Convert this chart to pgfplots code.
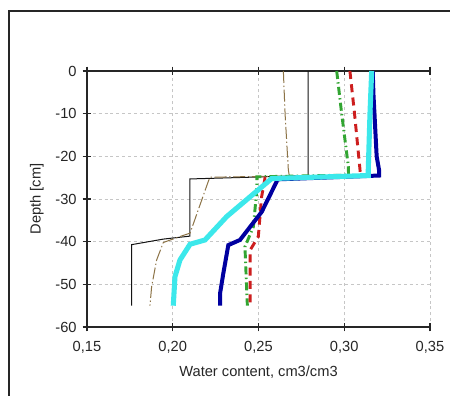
\documentclass[border=0pt]{standalone}
\usepackage{pgfplots}
\pgfplotsset{compat=1.18}
\usepackage{fontspec}
\setmainfont{Liberation Sans}
\definecolor{cblack}{RGB}{20,20,20}
\definecolor{cbrown}{RGB}{140,115,70}
\definecolor{cgreen}{RGB}{50,165,50}
\definecolor{cred}{RGB}{205,30,30}
\definecolor{cnavy}{RGB}{0,0,160}
\definecolor{ccyan}{RGB}{60,232,235}
\begin{document}
\begin{tikzpicture}
\useasboundingbox (-65.25pt,-51.75pt) rectangle (272.25pt,245.25pt);
\fill[white] (-65.25pt,-51.75pt) rectangle (272.25pt,245.25pt);
\draw[black!85, line width=0.8pt] (-58.5pt,-60pt) -- (-58.5pt,237pt) -- (280pt,237pt);
\begin{axis}[
  at={(0,0)}, anchor=south west,
  scale only axis,
  width=257.25pt, height=192pt,
  xmin=0.15, xmax=0.35, ymin=-60, ymax=0,
  xtick={0.15,0.2,0.25,0.3,0.35},
  ytick={0,-10,-20,-30,-40,-50,-60},
  axis x line=box, axis y line=left,
  axis line style={-, line width=1pt, black!85},
  every outer y axis line/.append style={-},
  every inner y axis line/.append style={-},
  tick align=center, major tick length=6.5pt,
  tick style={black!85, line width=0.8pt},
  grid=major,
  grid style={gray!45, line width=0.5pt, dash pattern=on 2.2pt off 2.2pt},
  scaled x ticks=false,
  /pgf/number format/assume math mode=true,
  xticklabel style={yshift=-4pt, /pgf/number format/.cd, fixed, fixed zerofill, precision=2, use comma},
  yticklabel style={xshift=-1pt},
  tick label style={font=\fontsize{11}{13}\selectfont, text=black!85},
  label style={font=\fontsize{11}{13}\selectfont, text=black!85},
  xlabel={Water content, cm3/cm3},
  ylabel={Depth [cm]},
  xlabel style={at={(axis description cs:0.5,-0.176)}, anchor=center},
  ylabel style={at={(axis description cs:-0.146,0.5)}, anchor=center},
  clip=false,
]
\addplot[cblack, line width=0.75pt] coordinates {
(0.279,0) (0.279,-24.5) (0.210,-25.3) (0.210,-38.7) (0.1945,-39.4) (0.176,-40.7) (0.176,-55)};
\addplot[cbrown, line width=0.75pt, dash pattern=on 9pt off 2pt on 1pt off 2pt] coordinates {
(0.2645,0) (0.2655,-10) (0.2674,-23.2) (0.268,-24.6) (0.2217,-24.9) (0.2207,-25.9) (0.2101,-38.0) (0.2042,-38.8) (0.1945,-40.2) (0.1906,-44.3) (0.1877,-50.5) (0.1867,-55)};
\addplot[cgreen, line width=2.2pt, dash pattern=on 6pt off 2.5pt on 1pt off 2.5pt] coordinates {
(0.2956,0) (0.2985,-10) (0.3024,-22.4) (0.3025,-24.4) (0.249,-24.8) (0.249,-28) (0.247,-36.5) (0.2421,-41.2) (0.2435,-55)};
\addplot[cred, line width=2.2pt, dash pattern=on 6pt off 4pt] coordinates {
(0.3033,0) (0.306,-10) (0.3092,-23.2) (0.3095,-24.6) (0.2538,-25.1) (0.2518,-29.5) (0.2499,-38.8) (0.2451,-42) (0.2451,-55)};
\addplot[cnavy, line width=3pt] coordinates {
(0.3166,0) (0.3170,-5.2) (0.3189,-20) (0.3203,-23.2) (0.3203,-24.5) (0.2606,-25.4) (0.2606,-25.9) (0.2519,-33.0) (0.2392,-39.6) (0.2324,-40.8) (0.2295,-47.4) (0.2276,-52.1) (0.2276,-55)};
\addplot[ccyan, line width=3.8pt] coordinates {
(0.316,0) (0.3150,-10) (0.3140,-23.2) (0.3140,-24.5) (0.2577,-25.2) (0.2315,-34.1) (0.2188,-39.6) (0.2101,-40.6) (0.2042,-44.3) (0.2013,-48.2) (0.2003,-55)};
\end{axis}
\end{tikzpicture}
\end{document}
